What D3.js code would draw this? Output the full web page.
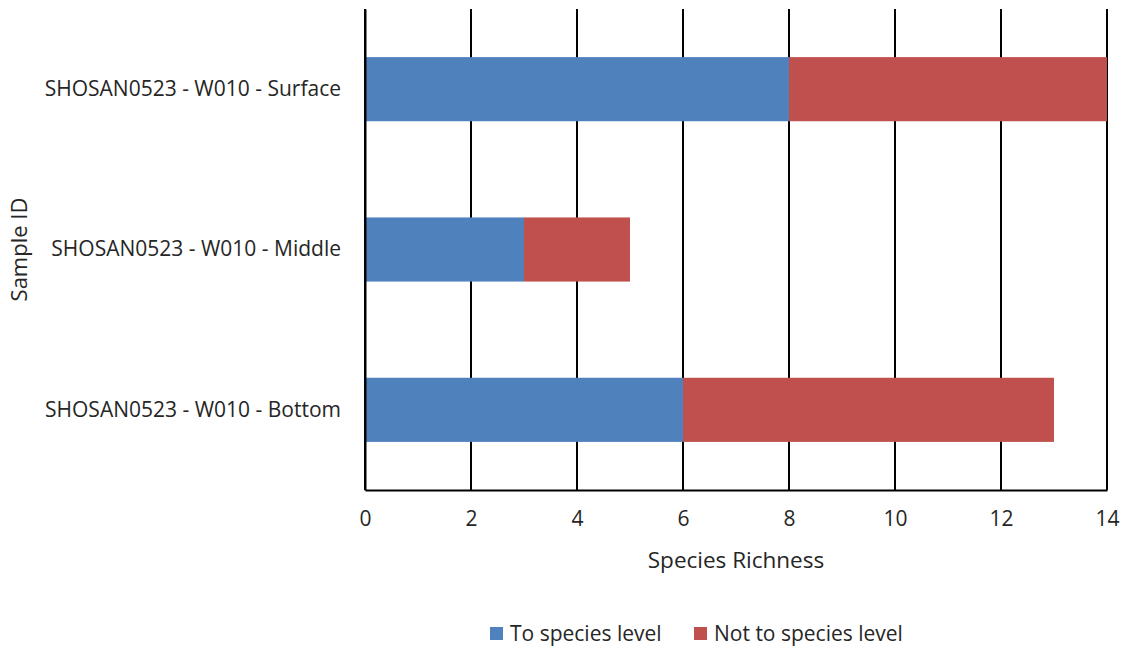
<!DOCTYPE html>
<html>
<head>
<meta charset="utf-8">
<script src="https://cdn.jsdelivr.net/npm/d3@7"></script>
<style>
  html, body { margin: 0; padding: 0; background: #fff; }
  svg { display: block; }
  text { font-family: "Open Sans", Lato, sans-serif; fill: #262626; }
</style>
</head>
<body>
<svg id="chart" width="1125" height="648"></svg>
<script>
// Sample identifiers, top to bottom
const samples = [
  "SHOSAN0523 - W010 - Surface",
  "SHOSAN0523 - W010 - Middle",
  "SHOSAN0523 - W010 - Bottom"
];
// Species richness split by identification level
const toSpecies = [8, 3, 6];
const notToSpecies = [6, 2, 7];
const seriesNames = ["To species level", "Not to species level"];
const seriesColors = ["#4F81BD", "#C0504D"];
const xTicks = [0, 2, 4, 6, 8, 10, 12, 14];

const svg = d3.select("#chart");
const margin = { left: 365, right: 18, top: 9, bottom: 158 };
const W = 1125, H = 648;
const FONT = "'Open Sans', Lato, sans-serif";

const x = d3.scaleLinear().domain([0, 14]).range([margin.left, W - margin.right]);
const y = d3.scaleBand().domain(samples).range([margin.top, H - margin.bottom]).paddingInner(0.6).paddingOuter(0.3);

// Vertical gridlines
svg.append("g")
  .selectAll("line")
  .data(xTicks)
  .join("line")
  .attr("x1", d => x(d)).attr("x2", d => x(d))
  .attr("y1", margin.top).attr("y2", H - margin.bottom)
  .attr("stroke", "#000").attr("stroke-width", 2);

// Stacked bars
const rows = samples.map((s, i) => ({ sample: s, to: toSpecies[i], not: notToSpecies[i] }));
const stack = d3.stack().keys(["to", "not"])(rows);
svg.append("g")
  .selectAll("g")
  .data(stack)
  .join("g")
  .attr("fill", (d, i) => seriesColors[i])
  .selectAll("rect")
  .data(d => d)
  .join("rect")
  .attr("x", d => x(d[0]))
  .attr("width", d => x(d[1]) - x(d[0]))
  .attr("y", d => y(d.data.sample))
  .attr("height", y.bandwidth());

// X axis
const xAxis = svg.append("g")
  .attr("transform", `translate(0,${H - margin.bottom})`)
  .call(d3.axisBottom(x).tickValues(xTicks).tickSize(0).tickPadding(21));
xAxis.select(".domain").attr("stroke", "#000").attr("stroke-width", 2);
xAxis.selectAll("text").style("font-size", "21px").style("font-family", FONT).attr("fill", "#262626");

// Y axis labels
const yAxis = svg.append("g")
  .attr("transform", `translate(${margin.left},0)`)
  .call(d3.axisLeft(y).tickSize(0).tickPadding(24));
yAxis.select(".domain").attr("stroke", "#000").attr("stroke-width", 2);
yAxis.selectAll("text").style("font-size", "21px").style("font-family", FONT).attr("fill", "#262626");

// Axis titles
svg.append("text")
  .attr("x", (x(0) + x(14)) / 2).attr("y", 568)
  .attr("text-anchor", "middle")
  .style("font-size", "22.5px")
  .text("Species Richness");

svg.append("text")
  .attr("transform", `translate(27,${(margin.top + H - margin.bottom) / 2}) rotate(-90)`)
  .attr("text-anchor", "middle")
  .style("font-size", "22px")
  .text("Sample ID");

// Legend
const legendX = [490, 694];
const legend = svg.append("g");
seriesNames.forEach((name, i) => {
  legend.append("rect")
    .attr("x", legendX[i]).attr("y", 627)
    .attr("width", 13).attr("height", 13)
    .attr("fill", seriesColors[i]);
  legend.append("text")
    .attr("x", legendX[i] + 20).attr("y", 641)
    .style("font-size", "21px")
    .text(name);
});
</script>
</body>
</html>
